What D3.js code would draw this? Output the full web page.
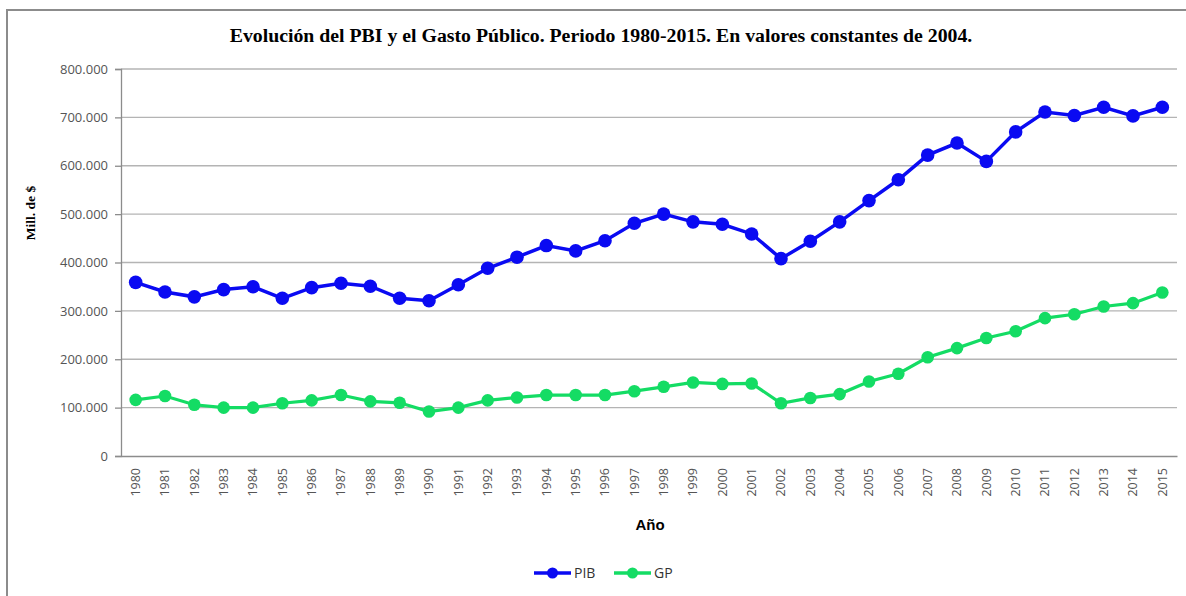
<!DOCTYPE html>
<html>
<head>
<meta charset="utf-8">
<script src="https://cdn.jsdelivr.net/npm/d3@7"></script>
<style>
  body { margin: 0; background: #fff; }
  svg { display: block; }
</style>
</head>
<body>
<svg id="chart" width="1186" height="596"></svg>
<script>
// data (millones de $, valores de 2004)
var years = d3.range(1980, 2016).map(String);
var pib = [359, 339, 329, 344, 350, 326, 348, 357, 351, 326,
           321, 354, 388, 411, 435, 424, 445, 481, 500, 484,
           479, 459, 408, 444, 484, 528, 571, 622, 647, 609,
           670, 711, 704, 721, 703, 721].map(function(v){ return v * 1000; });
var gp = [116, 124, 106, 100, 100, 109, 115, 126, 113, 110,
          92, 100, 115, 121, 126, 126, 126, 134, 143, 152,
          149, 150, 109, 120, 128, 154, 170, 204, 223, 244,
          258, 285, 293, 309, 316, 338].map(function(v){ return v * 1000; });
var yTicks = [0, 100000, 200000, 300000, 400000, 500000, 600000, 700000, 800000];
var seriesNames = ['PIB', 'GP'];
var seriesColors = ['#0a0af2', '#14dc64'];

var svg = d3.select('#chart');

// outer frame of the chart object
svg.append('rect')
  .attr('x', 7).attr('y', 10)
  .attr('width', 1220).attr('height', 640)
  .attr('fill', 'none')
  .attr('stroke', '#8c8c8c')
  .attr('stroke-width', 2);

var margin = {left: 121, right: 1177, top: 69, bottom: 456};

var x = d3.scaleBand()
  .domain(years)
  .range([margin.left, margin.right]);

var y = d3.scaleLinear()
  .domain([0, 800000])
  .range([margin.bottom, margin.top]);

var fmt = function(v){
  return v === 0 ? '0' : d3.format(',')(v).replace(/,/g, '.');
};

// gridlines
svg.append('g')
  .selectAll('line')
  .data(yTicks.slice(1))
  .enter().append('line')
  .attr('x1', margin.left).attr('x2', margin.right)
  .attr('y1', function(d){ return y(d); })
  .attr('y2', function(d){ return y(d); })
  .attr('stroke', '#b4b4b4')
  .attr('stroke-width', 1.3);

// y axis
var yAxis = svg.append('g')
  .attr('transform', 'translate(' + margin.left + ',0)')
  .call(d3.axisLeft(y).tickValues(yTicks).tickFormat(fmt).tickSize(6).tickPadding(7));
yAxis.select('.domain').attr('stroke', '#8c8c8c').attr('stroke-width', 1.3);
yAxis.selectAll('.tick line').attr('stroke', '#8c8c8c').attr('stroke-width', 1.3);
yAxis.selectAll('.tick text')
  .attr('fill', '#555')
  .style('font-family', '"Open Sans", sans-serif')
  .style('font-size', '13px');

// x axis
var xAxis = svg.append('g')
  .attr('transform', 'translate(0,' + margin.bottom + ')')
  .call(d3.axisBottom(x).tickSize(0).tickPadding(0));
xAxis.select('.domain').attr('stroke', '#8c8c8c').attr('stroke-width', 1.3);
xAxis.selectAll('.tick text')
  .attr('fill', '#555')
  .attr('transform', 'rotate(-90)')
  .attr('x', -12)
  .attr('y', 0)
  .attr('dy', '0.35em')
  .style('text-anchor', 'end')
  .style('font-family', '"Open Sans", sans-serif')
  .style('font-size', '12.5px');

// series
var series = [pib, gp];
var line = d3.line()
  .x(function(d, i){ return x(years[i]) + x.bandwidth() / 2; })
  .y(function(d){ return y(d); });

series.forEach(function(vals, k){
  var g = svg.append('g');
  g.append('path')
    .datum(vals)
    .attr('d', line)
    .attr('fill', 'none')
    .attr('stroke', seriesColors[k])
    .attr('stroke-width', k === 0 ? 3.5 : 3.2);
  g.selectAll('circle')
    .data(vals)
    .enter().append('circle')
    .attr('cx', function(d, i){ return x(years[i]) + x.bandwidth() / 2; })
    .attr('cy', function(d){ return y(d); })
    .attr('r', k === 0 ? 6.8 : 6.3)
    .attr('fill', seriesColors[k]);
});

// title
svg.append('text')
  .attr('x', 601).attr('y', 42)
  .attr('text-anchor', 'middle')
  .style('font-family', '"Liberation Serif", "Times New Roman", serif')
  .style('font-weight', 'bold')
  .style('font-size', '19.8px')
  .text('Evolución del PBI y el Gasto Público. Periodo 1980-2015. En valores constantes de 2004.');

// axis titles
svg.append('text')
  .attr('transform', 'translate(35,213) rotate(-90)')
  .attr('text-anchor', 'middle')
  .style('font-family', '"Liberation Serif", "Times New Roman", serif')
  .style('font-weight', 'bold')
  .style('font-size', '13.5px')
  .text('Mill. de $');

svg.append('text')
  .attr('x', 650).attr('y', 530)
  .attr('text-anchor', 'middle')
  .style('font-family', '"Liberation Sans", Arial, sans-serif')
  .style('font-weight', 'bold')
  .style('font-size', '15px')
  .text('Año');

// legend
var legendX = [534, 614];
var legend = svg.append('g');
seriesNames.forEach(function(name, k){
  var lg = legend.append('g').attr('transform', 'translate(' + legendX[k] + ',573)');
  lg.append('line')
    .attr('x1', 0).attr('x2', 37)
    .attr('stroke', seriesColors[k])
    .attr('stroke-width', 3.5);
  lg.append('circle')
    .attr('cx', 18.5).attr('r', 5.5)
    .attr('fill', seriesColors[k]);
  lg.append('text')
    .attr('x', 40).attr('dy', '0.35em')
    .attr('fill', '#333')
    .style('font-family', '"Open Sans", sans-serif')
    .style('font-size', '14px')
    .text(name);
});
</script>
</body>
</html>
